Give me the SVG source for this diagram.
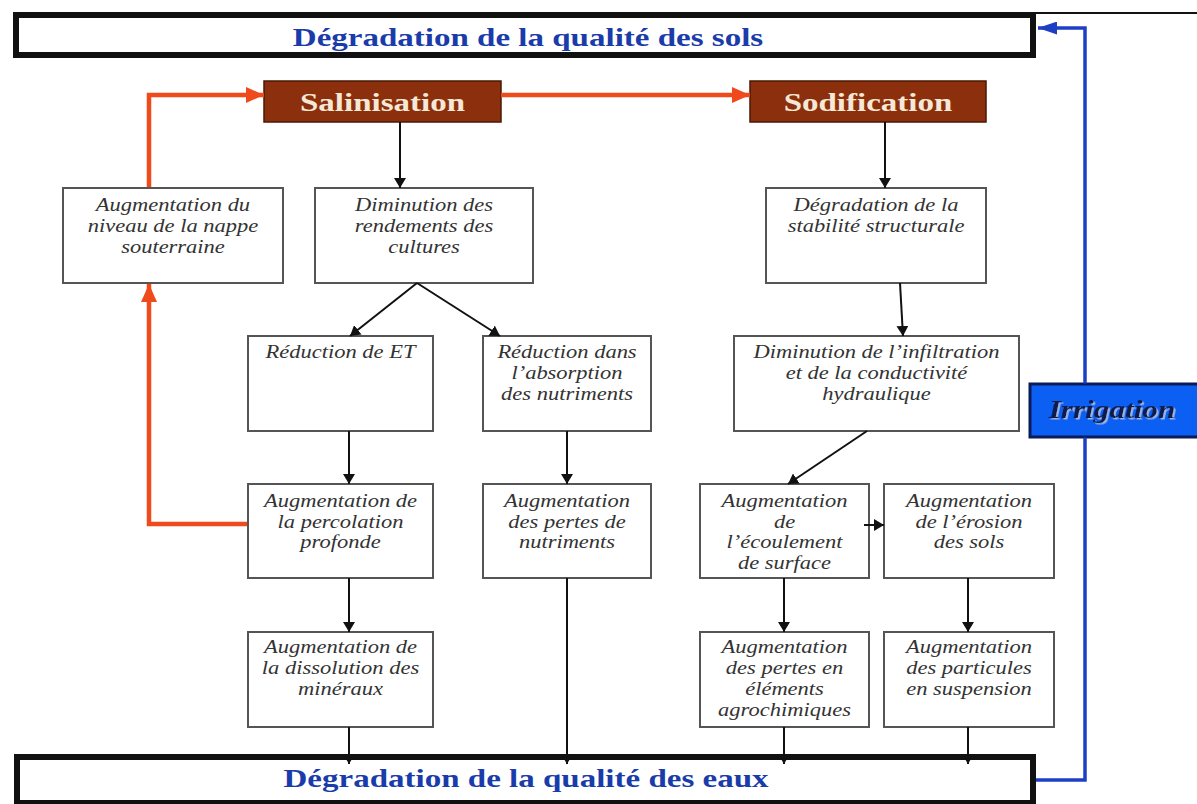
<svg xmlns="http://www.w3.org/2000/svg" width="1197" height="804" viewBox="0 0 1197 804">
<defs>
<style>
.box{fill:#fff;stroke:#555;stroke-width:2}
.t{font-family:"Liberation Serif","Times New Roman",serif;font-style:italic;font-size:18px;fill:#333;text-anchor:middle}
.title{font-family:"Liberation Serif","Times New Roman",serif;font-weight:bold;font-size:26px;fill:#1a3caa;text-anchor:middle}
.frame{fill:#fff;stroke:#111;stroke-width:6}
.proc{fill:#8c2f0c;stroke:#4a1804;stroke-width:1.5}
.ptxt{font-family:"Liberation Serif","Times New Roman",serif;font-weight:bold;font-size:26px;fill:#f6e8d6;text-anchor:middle}
.irr{fill:#0b5ff2;stroke:#0a1a5a;stroke-width:3}
.itxt{font-family:"Liberation Serif","Times New Roman",serif;font-weight:bold;font-style:italic;font-size:25px;fill:#0d1b4f;text-anchor:middle}
.blk{stroke:#111;stroke-width:2;fill:none;marker-end:url(#ab)}
.red{stroke:#ee4a1c;stroke-width:4.5;fill:none;marker-end:url(#ar)}
.blue{stroke:#1d3fc6;stroke-width:3.5;fill:none;marker-end:url(#abl)}
</style>
<marker id="ab" viewBox="0 0 10 12" refX="10" refY="6" markerWidth="10" markerHeight="12" markerUnits="userSpaceOnUse" orient="auto"><path d="M0,0 L10,6 L0,12 z" fill="#111"/></marker>
<marker id="ar" viewBox="0 0 18 16" refX="18" refY="8" markerWidth="18" markerHeight="16" markerUnits="userSpaceOnUse" orient="auto"><path d="M0,0 L18,8 L0,16 z" fill="#ee4a1c"/></marker>
<marker id="abl" viewBox="0 0 19 13" refX="19" refY="6.5" markerWidth="19" markerHeight="13" markerUnits="userSpaceOnUse" orient="auto"><path d="M0,0 L19,6.5 L0,13 z" fill="#1d3fc6"/></marker>
<filter id="sh" x="-10%" y="-20%" width="120%" height="150%"><feDropShadow dx="1.5" dy="1.5" stdDeviation="0.6" flood-color="#9fb4e0"/></filter>
</defs>
<rect width="1197" height="804" fill="#fff"/>

<g id="sols">
<rect class="frame" x="16" y="15" width="1017" height="40"/>
<text class="title" transform="translate(528,0) scale(1.27,1)" x="0" y="46">Dégradation de la qualité des sols</text>
</g>

<g id="eaux">
<rect class="frame" x="17" y="757" width="1016" height="46" stroke-width="7"/>
<text class="title" transform="translate(526,0) scale(1.27,1)" x="0" y="787">Dégradation de la qualité des eaux</text>
</g>

<g id="salinisation">
<rect class="proc" x="264" y="81" width="237" height="41"/>
<text class="ptxt" transform="translate(382.5,0) scale(1.27,1)" x="0" y="111">Salinisation</text>
</g>

<g id="sodification">
<rect class="proc" x="750" y="81" width="236" height="41"/>
<text class="ptxt" transform="translate(868,0) scale(1.27,1)" x="0" y="111">Sodification</text>
</g>

<g id="irrigation">
<rect class="irr" x="1030" y="384" width="170" height="53"/>
<text class="itxt" filter="url(#sh)" transform="translate(1112,0) scale(1.25,1)" x="0" y="418">Irrigation</text>
</g>

<g id="nappe">
<rect class="box" x="63" y="188" width="220" height="95"/>
<text class="t" transform="translate(173,0) scale(1.25,1)"><tspan x="0" y="211">Augmentation du</tspan><tspan x="0" y="232">niveau de la nappe</tspan><tspan x="0" y="253">souterraine</tspan></text>
</g>

<g id="rendements">
<rect class="box" x="315" y="188" width="218" height="95"/>
<text class="t" transform="translate(424,0) scale(1.25,1)"><tspan x="0" y="211">Diminution des</tspan><tspan x="0" y="232">rendements des</tspan><tspan x="0" y="253">cultures</tspan></text>
</g>

<g id="stabilite">
<rect class="box" x="766" y="188" width="220" height="95"/>
<text class="t" transform="translate(876,0) scale(1.25,1)"><tspan x="0" y="211">Dégradation de la</tspan><tspan x="0" y="232">stabilité structurale</tspan></text>
</g>

<g id="reduction-et">
<rect class="box" x="248" y="336" width="185" height="95"/>
<text class="t" transform="translate(340.5,0) scale(1.25,1)"><tspan x="0" y="358">Réduction de ET</tspan></text>
</g>

<g id="reduction-absorption">
<rect class="box" x="483" y="336" width="168" height="95"/>
<text class="t" transform="translate(567,0) scale(1.25,1)"><tspan x="0" y="358">Réduction dans</tspan><tspan x="0" y="379">l’absorption</tspan><tspan x="0" y="400">des nutriments</tspan></text>
</g>

<g id="infiltration">
<rect class="box" x="734" y="336" width="285" height="95"/>
<text class="t" transform="translate(876.5,0) scale(1.25,1)"><tspan x="0" y="358">Diminution de l’infiltration</tspan><tspan x="0" y="379">et de la conductivité</tspan><tspan x="0" y="400">hydraulique</tspan></text>
</g>

<g id="percolation">
<rect class="box" x="248" y="484" width="185" height="94"/>
<text class="t" transform="translate(340.5,0) scale(1.25,1)"><tspan x="0" y="507">Augmentation de</tspan><tspan x="0" y="528">la percolation</tspan><tspan x="0" y="548">profonde</tspan></text>
</g>

<g id="pertes-nutriments">
<rect class="box" x="483" y="484" width="168" height="94"/>
<text class="t" transform="translate(567,0) scale(1.25,1)"><tspan x="0" y="507">Augmentation</tspan><tspan x="0" y="528">des pertes de</tspan><tspan x="0" y="548">nutriments</tspan></text>
</g>

<g id="ecoulement">
<rect class="box" x="700" y="484" width="169" height="94"/>
<text class="t" transform="translate(784.5,0) scale(1.25,1)"><tspan x="0" y="507">Augmentation</tspan><tspan x="0" y="528">de</tspan><tspan x="0" y="548">l’écoulement</tspan><tspan x="0" y="569">de surface</tspan></text>
</g>

<g id="erosion">
<rect class="box" x="884" y="484" width="170" height="94"/>
<text class="t" transform="translate(969,0) scale(1.25,1)"><tspan x="0" y="507">Augmentation</tspan><tspan x="0" y="528">de l’érosion</tspan><tspan x="0" y="548">des sols</tspan></text>
</g>

<g id="dissolution">
<rect class="box" x="248" y="632" width="185" height="95"/>
<text class="t" transform="translate(340.5,0) scale(1.25,1)"><tspan x="0" y="653">Augmentation de</tspan><tspan x="0" y="674">la dissolution des</tspan><tspan x="0" y="695">minéraux</tspan></text>
</g>

<g id="agrochimiques">
<rect class="box" x="700" y="632" width="169" height="95"/>
<text class="t" transform="translate(784.5,0) scale(1.25,1)"><tspan x="0" y="653">Augmentation</tspan><tspan x="0" y="674">des pertes en</tspan><tspan x="0" y="695">éléments</tspan><tspan x="0" y="716">agrochimiques</tspan></text>
</g>

<g id="particules">
<rect class="box" x="884" y="632" width="170" height="95"/>
<text class="t" transform="translate(969,0) scale(1.25,1)"><tspan x="0" y="653">Augmentation</tspan><tspan x="0" y="674">des particules</tspan><tspan x="0" y="695">en suspension</tspan></text>
</g>

<g id="connectors">
<line x1="1036" y1="13" x2="1197" y2="13" stroke="#111" stroke-width="2"/>
<path class="blue" d="M1036,780 L1085,780 L1085,437.5 M1085,383.5 L1085,28 L1038,28"/>
<path class="red" d="M149,187 L149,95 L264,95"/>
<path class="red" d="M501,95 L750,95"/>
<path class="red" d="M247,524 L149,524 L149,284"/>
<path class="blk" d="M400,122 L400,188"/>
<path class="blk" d="M885,122 L885,188"/>
<path class="blk" d="M417,283 L350,336"/>
<path class="blk" d="M417,283 L500,336"/>
<path class="blk" d="M900,283 L903,336"/>
<path class="blk" d="M349,431 L349,484"/>
<path class="blk" d="M567,431 L567,484"/>
<path class="blk" d="M867,431 L788,484"/>
<path class="blk" d="M864,525 L884,525"/>
<path class="blk" d="M349,578 L349,632"/>
<path class="blk" d="M784,578 L784,632"/>
<path class="blk" d="M968,578 L968,632"/>
<path class="blk" d="M349,727 L349,764"/>
<path class="blk" d="M567,578 L567,764"/>
<path class="blk" d="M784,727 L784,764"/>
<path class="blk" d="M968,727 L968,764"/>
</g>
</svg>
